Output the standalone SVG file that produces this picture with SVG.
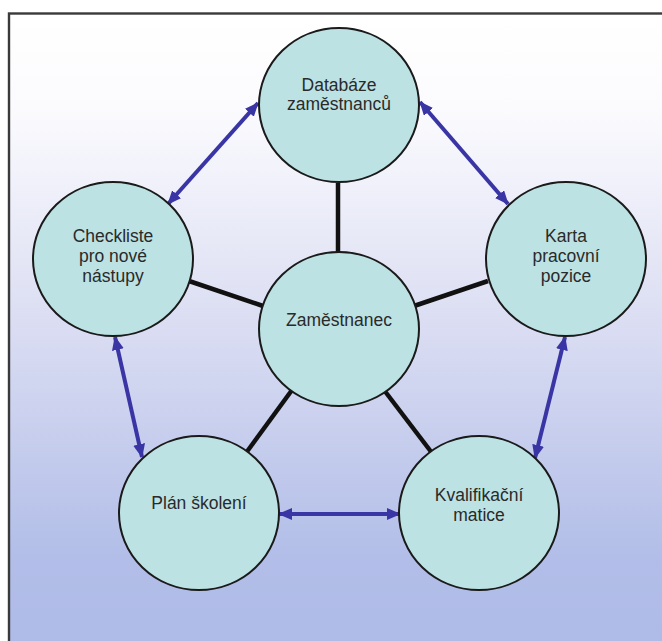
<svg xmlns="http://www.w3.org/2000/svg" width="662" height="641" viewBox="0 0 662 641">
<defs>
<linearGradient id="bg" x1="0" y1="0" x2="0" y2="1" gradientUnits="objectBoundingBox">
<stop offset="0" stop-color="#ffffff"/>
<stop offset="0.15" stop-color="#fbfbfe"/>
<stop offset="0.5" stop-color="#d9dcf2"/>
<stop offset="0.85" stop-color="#b2bee8"/>
<stop offset="1" stop-color="#aebbe7"/>
</linearGradient>
<marker id="ah" viewBox="0 0 14 12" refX="13" refY="6" markerWidth="14" markerHeight="12" markerUnits="userSpaceOnUse" orient="auto-start-reverse">
<path d="M0,0 L14,6 L0,12 Z" fill="#3a35a5"/>
</marker>
<style>
.node ellipse{fill:#bde2e3;stroke:#1a1a1a;stroke-width:2}
.node text{font-family:"Liberation Sans",Arial,sans-serif;font-size:17.5px;fill:#2a2a2a;text-anchor:middle}
.spoke{stroke:#111;stroke-width:4.5;fill:none}
.link{stroke:#3a35a5;stroke-width:4;fill:none;marker-start:url(#ah);marker-end:url(#ah)}
</style>
</defs>
<rect x="0" y="0" width="662" height="641" fill="#ffffff"/>
<rect x="9" y="13.5" width="660" height="640" fill="url(#bg)" stroke="#3a3a3a" stroke-width="2.4"/>
<g id="connectors">
<line class="spoke" x1="338" y1="183" x2="338" y2="253"/>
<line class="spoke" x1="189" y1="281" x2="263" y2="306"/>
<line class="spoke" x1="488" y1="281" x2="414" y2="306"/>
<line class="spoke" x1="292" y1="390" x2="246" y2="453"/>
<line class="spoke" x1="384" y1="390" x2="432" y2="453"/>
<line class="link" x1="258" y1="103" x2="168" y2="204"/>
<line class="link" x1="420" y1="102" x2="508" y2="204"/>
<line class="link" x1="115" y1="337" x2="142" y2="457"/>
<line class="link" x1="565" y1="337" x2="535" y2="458"/>
<line class="link" x1="279" y1="514" x2="400" y2="514"/>
</g>
<g id="databaze" class="node">
<ellipse cx="339" cy="105" rx="80" ry="77"/>
<text x="339" y="91">Databáze</text>
<text x="339" y="110">zaměstnanců</text>
</g>
<g id="checkliste" class="node">
<ellipse cx="113" cy="259" rx="80" ry="77"/>
<text x="113" y="242">Checkliste</text>
<text x="113" y="262">pro nové</text>
<text x="113" y="282">nástupy</text>
</g>
<g id="karta" class="node">
<ellipse cx="566" cy="259" rx="80" ry="77"/>
<text x="566" y="242">Karta</text>
<text x="566" y="262">pracovní</text>
<text x="566" y="282">pozice</text>
</g>
<g id="zamestnanec" class="node">
<ellipse cx="339" cy="329" rx="80" ry="77"/>
<text x="339" y="326">Zaměstnanec</text>
</g>
<g id="plan" class="node">
<ellipse cx="199" cy="513" rx="80" ry="77"/>
<text x="199" y="509">Plán školení</text>
</g>
<g id="kvalifikace" class="node">
<ellipse cx="479" cy="513" rx="80" ry="77"/>
<text x="479" y="501">Kvalifikační</text>
<text x="479" y="521">matice</text>
</g>
</svg>
